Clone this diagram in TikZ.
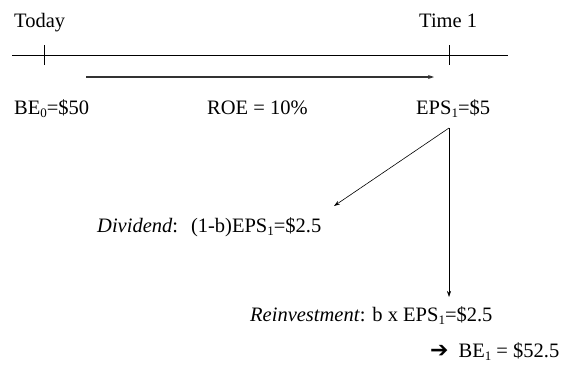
\documentclass[tikz,border=0pt]{standalone}
\usepackage{fontspec}
\setmainfont{Liberation Serif}
\newfontfamily\symfont{DejaVu Sans}
\usetikzlibrary{arrows.meta}
\newcommand\lowsub[1]{\raisebox{-0.35ex}{\fontsize{13}{14}\selectfont #1}}

\begin{document}
\begin{tikzpicture}[x=1pt,y=-1pt,
    lbl/.style={anchor=base west,inner sep=0pt,font=\fontsize{20.5}{24}\selectfont},
    flow/.style={-{Stealth[length=6pt,width=4pt]},line width=0.6pt}]
  \useasboundingbox (0,0) rectangle (564,364);
  % time line
  \coordinate (start) at (12,55);
  \coordinate (stop) at (508,55);
  \coordinate (t0) at (44,55);
  \coordinate (t1) at (449,55);
  \draw[line width=0.8pt] (start) -- (stop);
  \draw[line width=0.8pt] (t0) ++(0,-10) -- ++(0,20);
  \draw[line width=0.8pt] (t1) ++(0,-10) -- ++(0,20);
  \node[lbl] (today) at (14,27) {Today};
  \node[lbl] (timeone) at (419,27) {Time 1};
  % growth over the year
  \coordinate (gfrom) at (86,77);
  \coordinate (gto) at (434,77);
  \draw[flow,line width=1.2pt,black!80] (gfrom) -- (gto);
  \node[lbl] (be0) at (14,114) {BE\lowsub{0}=\$50};
  \node[lbl] (roe) at (207,114) {ROE = 10\%};
  \node[lbl] (eps) at (416,114) {EPS\lowsub{1}=\$5};
  % split of earnings
  \coordinate (split) at (449,128);
  \coordinate (divend) at (334,206);
  \coordinate (reend) at (449,297);
  \draw[flow] (split) -- (divend);
  \draw[flow] (split) -- (reend);
  \node[lbl] (div) at (97,232) {\textit{Dividend}:\hspace{13pt}(1-b)EPS\lowsub{1}=\$2.5};
  \node[lbl] (reinv) at (250,321) {\textit{Reinvestment}: b x EPS\lowsub{1}=\$2.5};
  \node[lbl] (beone) at (430,357) {{\symfont\fontsize{22}{24}\selectfont ➔}\hspace{10pt}BE\lowsub{1} = \$52.5};
\end{tikzpicture}
\end{document}
